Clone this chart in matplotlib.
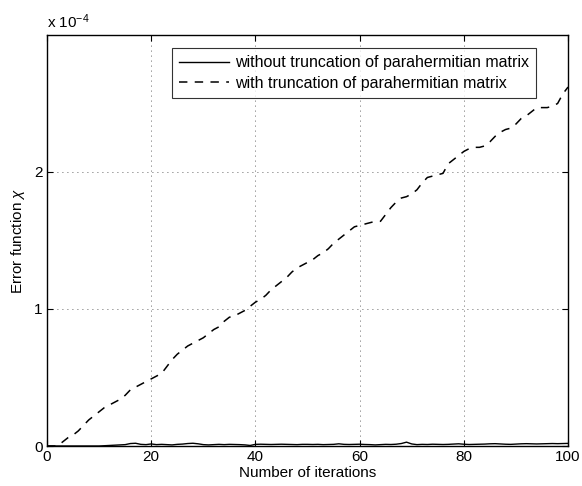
import numpy as np
import matplotlib
matplotlib.use("Agg")
import matplotlib.pyplot as plt
from matplotlib.ticker import FuncFormatter

plt.rcParams["font.family"] = ["Liberation Sans", "DejaVu Sans"]
plt.rcParams["mathtext.fontset"] = "custom"
plt.rcParams["mathtext.rm"] = "Liberation Sans"
plt.rcParams["mathtext.it"] = "Liberation Sans:italic"

SCALE = 1e-4

iterations = np.arange(0, 101)

# error function without truncation (units of 1e-4)
chi_full = np.array([
    0.000, 0.000, 0.000, 0.000, 0.000, 0.000, 0.000, 0.000, 0.000, 0.000,
    0.000, 0.002, 0.004, 0.006, 0.008, 0.010, 0.018, 0.020, 0.012, 0.010,
    0.015, 0.010, 0.012, 0.010, 0.008, 0.012, 0.014, 0.018, 0.020, 0.016,
    0.010, 0.008, 0.010, 0.012, 0.010, 0.012, 0.011, 0.010, 0.008, 0.004,
    0.012, 0.013, 0.012, 0.011, 0.012, 0.013, 0.012, 0.011, 0.010, 0.012,
    0.012, 0.011, 0.012, 0.010, 0.011, 0.012, 0.016, 0.012, 0.011, 0.012,
    0.013, 0.011, 0.010, 0.008, 0.010, 0.012, 0.011, 0.013, 0.018, 0.028,
    0.015, 0.010, 0.012, 0.011, 0.013, 0.012, 0.011, 0.012, 0.014, 0.016,
    0.013, 0.011, 0.012, 0.013, 0.014, 0.016, 0.017, 0.015, 0.013, 0.012,
    0.014, 0.016, 0.017, 0.016, 0.015, 0.016, 0.017, 0.018, 0.017, 0.018,
    0.019,
])

# error function with truncation (units of 1e-4)
chi_trunc = np.array([
    0.00, 0.00, 0.00, 0.03, 0.06, 0.08, 0.11, 0.15, 0.19, 0.22,
    0.25, 0.28, 0.30, 0.32, 0.34, 0.37, 0.41, 0.43, 0.45, 0.47,
    0.49, 0.51, 0.53, 0.58, 0.63, 0.67, 0.70, 0.73, 0.75, 0.77,
    0.79, 0.82, 0.85, 0.87, 0.91, 0.94, 0.95, 0.97, 0.99, 1.02,
    1.05, 1.07, 1.10, 1.14, 1.17, 1.20, 1.23, 1.27, 1.30, 1.32,
    1.34, 1.36, 1.39, 1.41, 1.44, 1.48, 1.51, 1.54, 1.57, 1.60,
    1.61, 1.62, 1.63, 1.64, 1.64, 1.69, 1.74, 1.78, 1.81, 1.82,
    1.84, 1.87, 1.92, 1.96, 1.97, 1.98, 1.99, 2.06, 2.09, 2.12,
    2.15, 2.17, 2.18, 2.18, 2.19, 2.22, 2.26, 2.29, 2.31, 2.32,
    2.35, 2.39, 2.41, 2.44, 2.47, 2.47, 2.47, 2.48, 2.50, 2.57,
    2.62,
])

x_ticks = [0, 20, 40, 60, 80, 100]
y_ticks = [0, 1, 2]

fig = plt.figure(figsize=(5.82, 4.86), dpi=100)
ax = fig.add_axes([0.0808, 0.0823, 0.8952, 0.8457])

ax.plot(iterations, chi_full * SCALE, color="black", lw=1.0,
        label="without truncation of parahermitian matrix")
ax.plot(iterations, chi_trunc * SCALE, color="black", lw=1.1,
        dashes=(5.5, 4.8), label="with truncation of parahermitian matrix")

ax.set_xlim(0, 100)
ax.set_ylim(0, 3 * SCALE)
ax.set_xticks(x_ticks)
ax.set_yticks([t * SCALE for t in y_ticks])
ax.yaxis.set_major_formatter(FuncFormatter(lambda v, p: f"{v / SCALE:g}"))

ax.grid(True, color="#333333", linestyle=(0, (1, 5)), linewidth=0.6)
ax.tick_params(direction="in", length=4, width=0.8, labelsize=11,
               top=True, right=True, pad=3)
for sp in ax.spines.values():
    sp.set_linewidth(1.0)

ax.set_xlabel("Number of iterations", fontsize=11, labelpad=1)
ax.set_ylabel(r"Error function $\chi$", fontsize=11, labelpad=5)

fig.text(0.0808, 0.942, r"x 10$^{-4}$", fontsize=11, ha="left", va="baseline")

leg = ax.legend(loc="upper left", bbox_to_anchor=(0.24, 0.968), fontsize=11.5,
                frameon=True, fancybox=False, edgecolor="black",
                handlelength=3.1, handletextpad=0.4, borderpad=0.45,
                labelspacing=0.35, borderaxespad=0)
leg.get_frame().set_linewidth(0.8)

fig.savefig("out.png", dpi=100)
